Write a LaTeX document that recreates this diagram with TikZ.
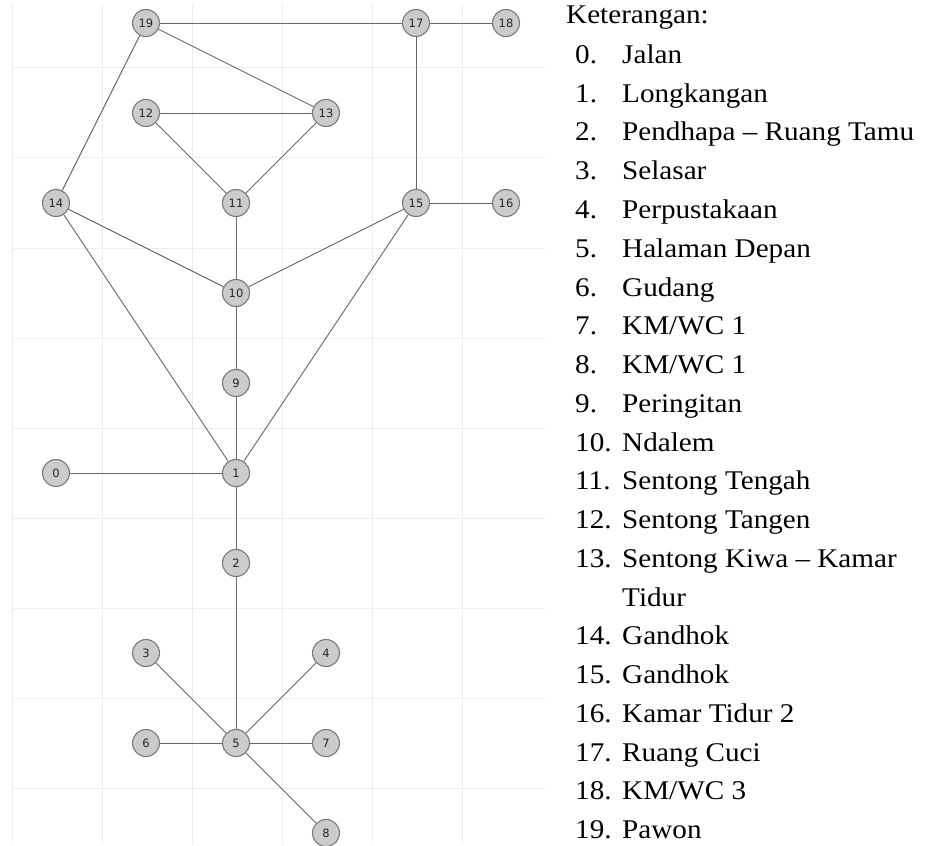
\documentclass[tikz,border=0pt]{standalone}
\usepackage{fontspec}
\setmainfont{Liberation Serif}[FakeStretch=1.08]
\newfontfamily\roomfont{DejaVu Sans}
\usetikzlibrary{positioning}

\definecolor{gridgray}{HTML}{EDEDED}
\definecolor{roomfill}{HTML}{CDCACA}
\definecolor{roomline}{HTML}{7A7A7A}
\definecolor{linkgray}{HTML}{666666}

\tikzset{
  room/.style={circle, draw=roomline, fill=roomfill, line width=1.1pt,
    minimum size=27pt, inner sep=0pt,
    font=\roomfont\fontsize{11.5}{13}\selectfont, text=black!85},
  link/.style={draw=linkgray, line width=0.9pt},
  ket/.style={anchor=base west, inner sep=0pt,
    font=\fontsize{27}{34}\selectfont}
}

\begin{document}
\begin{tikzpicture}[x=1pt, y=-1pt]
  \useasboundingbox (0,0) rectangle (925,845);

  % Grid
  \foreach \x in {12,102,...,462}
    \draw[gridgray, line width=1pt] (\x,5) -- (\x,845);
  \foreach \y in {68,158,...,788}
    \draw[gridgray, line width=1pt] (12,\y) -- (545,\y);

  % Rooms
  \foreach \n/\x/\y in {0/56/473, 1/236/473, 2/236/563, 3/146/653,
      4/326/653, 5/236/743, 6/146/743, 7/326/743, 8/326/833, 9/236/383,
      10/236/293, 11/236/203, 12/146/113, 13/326/113, 14/56/203,
      15/416/203, 16/506/203, 17/416/23, 18/506/23, 19/146/23}
    \node[room] (r\n) at (\x,\y) {\n};

  % Connections
  \foreach \a/\b in {19/17, 17/18, 19/13, 19/14, 12/13, 12/11, 13/11,
      17/15, 15/16, 14/10, 11/10, 15/10, 14/1, 15/1, 10/9, 9/1, 0/1,
      1/2, 2/5, 3/5, 4/5, 6/5, 7/5, 8/5}
    \draw[link] (r\a) -- (r\b);

  % Legend
  \node[ket] (keterangan) at (566,24) {Keterangan:};
  \foreach \n/\k/\t in {0/0/Jalan, 1/1/Longkangan,
      2/2/{Pendhapa – Ruang Tamu}, 3/3/Selasar, 4/4/Perpustakaan,
      5/5/{Halaman Depan}, 6/6/Gudang, 7/7/{KM/WC 1}, 8/8/{KM/WC 1},
      9/9/Peringitan, 10/10/Ndalem, 11/11/{Sentong Tengah},
      12/12/{Sentong Tangen}, 13/13/{Sentong Kiwa – Kamar},
      14/15/Gandhok, 15/16/Gandhok, 16/17/{Kamar Tidur 2},
      17/18/{Ruang Cuci}, 18/19/{KM/WC 3}, 19/20/Pawon} {
    \node[ket] (num\n) at (575,{63.5+38.75*\k}) {\n.};
    \node[ket] (lbl\n) at (622,{63.5+38.75*\k}) {\t};
  }
  \node[ket] (tidur) at (622,{63.5+38.75*14}) {Tidur};
\end{tikzpicture}
\end{document}
